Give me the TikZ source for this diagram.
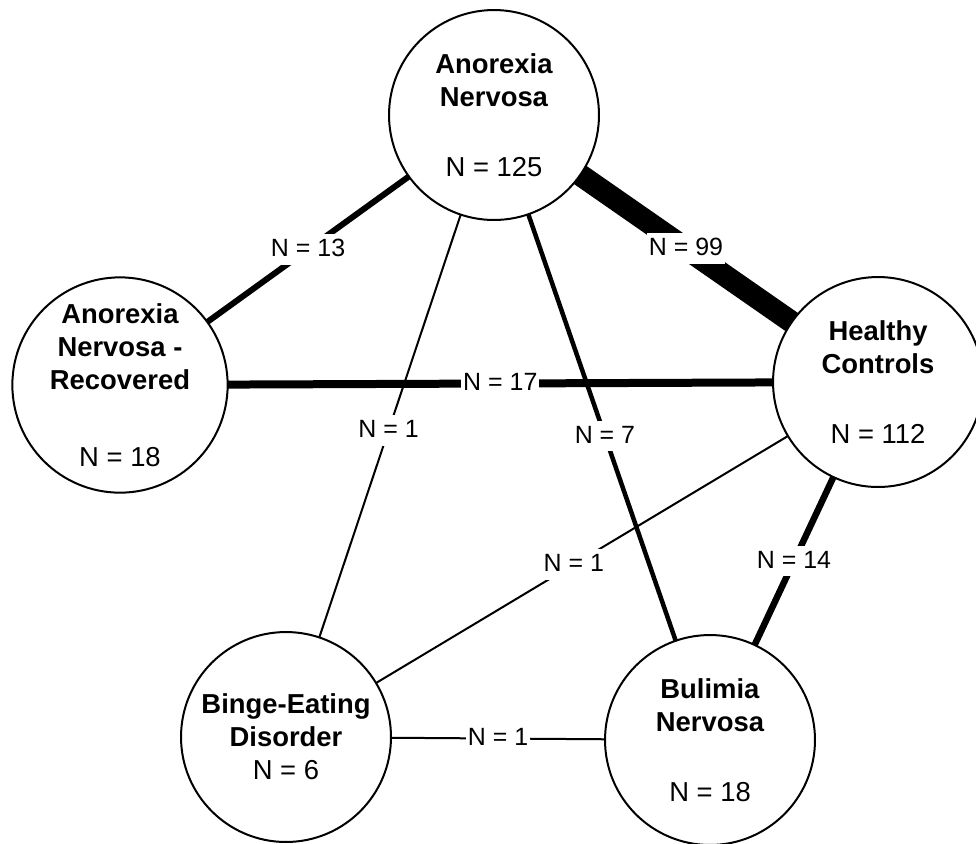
\documentclass[tikz,border=0pt]{standalone}
\usepackage{fontspec}
\setmainfont{Liberation Sans}
\usetikzlibrary{backgrounds}

\begin{document}
\begin{tikzpicture}[x=0.02cm,y=-0.02cm,
  disorder/.style={circle,draw,fill=white,line width=0.04cm,minimum size=4.2cm,inner sep=0pt,align=center,font=\fontsize{15.6}{18.8}\selectfont},
  link/.style={line width=#1},
  nlabel/.style={fill=white,inner sep=1pt,text height=12pt,text depth=3.5pt,font=\fontsize{14.2}{17}\selectfont}]
\useasboundingbox (0,0) rectangle (976,843);
\node[disorder] (an) at (494,115) {\textbf{Anorexia}\\\textbf{Nervosa}\\[21pt]N = 125};
\node[disorder] (anr) at (120,385) {\textbf{Anorexia}\\\textbf{Nervosa -}\\\textbf{Recovered}\\[25pt]N = 18};
\node[disorder] (hc) at (878,382) {\textbf{Healthy}\\\textbf{Controls}\\[21pt]N = 112};
\node[disorder] (bed) at (286,737) {\textbf{Binge-Eating}\\\textbf{Disorder}\\N = 6};
\node[disorder] (bn) at (710,740) {\textbf{Bulimia}\\\textbf{Nervosa}\\[21pt]N = 18};
\begin{scope}[on background layer]
\draw[link=0.12cm] (an.center) -- (anr.center);
\draw[link=0.44cm] (an.center) -- (hc.center);
\draw[link=0.16cm] (anr.center) -- (hc.center);
\draw[link=0.04cm] (an.center) -- (bed.center);
\draw[link=0.09cm] (an.center) -- (bn.center);
\draw[link=0.04cm] (hc.center) -- (bed.center);
\draw[link=0.13cm] (hc.center) -- (bn.center);
\draw[link=0.04cm] (bed.center) -- (bn.center);
\end{scope}
\path (an) -- node[nlabel]{N = 13} (anr);
\path (an) -- node[nlabel]{N = 99} (hc);
\path (anr) -- node[nlabel]{N = 17} (hc);
\path (an) -- node[nlabel,pos=0.51]{N = 1} (bed);
\path (an) -- node[nlabel,pos=0.52]{N = 7} (bn);
\path (hc) -- node[nlabel,pos=0.52]{N = 1} (bed);
\path (hc) -- node[nlabel]{N = 14} (bn);
\path (bed) -- node[nlabel]{N = 1} (bn);
\end{tikzpicture}
\end{document}
